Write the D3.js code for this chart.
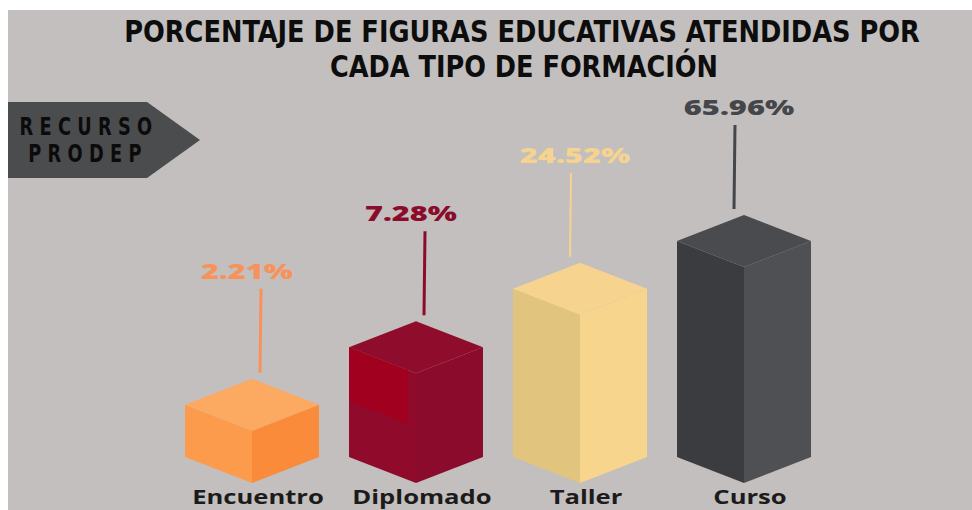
<!DOCTYPE html>
<html>
<head>
<meta charset="utf-8">
<script src="https://cdn.jsdelivr.net/npm/d3@7"></script>
<style>
  html, body { margin: 0; padding: 0; background: #fff; }
  svg { display: block; }
</style>
</head>
<body>
<div id="chart"></div>
<script>
// data
var categories = ["Encuentro", "Diplomado", "Taller", "Curso"];
var values = [2.21, 7.28, 24.52, 65.96];
var valueLabels = ["2.21%", "7.28%", "24.52%", "65.96%"];

// face colours per bar: top, left, right, label
var faceTop = ["#fca962", "#8f0c2d", "#f6d38e", "#4a4b4e"];
var faceLeft = ["#fd9b4d", "#8f0a2b", "#e1c47e", "#3a3c40"];
var faceRight = ["#f98b3a", "#8a0b2b", "#f7d58d", "#4e5053"];
var labelColor = ["#f7935a", "#8b0b2b", "#f6d48f", "#454649"];

var W = 972, H = 510;
var svg = d3.select("#chart").append("svg")
    .attr("width", W)
    .attr("height", H);

// grey card
svg.append("rect")
    .attr("x", 8).attr("y", 10)
    .attr("width", W - 8).attr("height", H - 10)
    .attr("fill", "#c2bfbe");

// title, squeezed to the original width with a scale transform
var title = svg.append("g")
    .attr("font-family", "'Liberation Sans Narrow', 'DejaVu Sans Condensed', 'Roboto Condensed', sans-serif")
    .attr("font-weight", "bold")
    .attr("font-size", 31)
    .attr("fill", "#0d0d0d")
    .attr("text-anchor", "middle");

function fitLine(txt, cx, by, w) {
  var t = title.append("text").attr("x", 0).attr("y", 0).text(txt);
  var len = t.node().getComputedTextLength();
  t.attr("transform", "translate(" + cx + "," + by + ") scale(" + (w / len) + ",1)");
}
fitLine("PORCENTAJE DE FIGURAS EDUCATIVAS ATENDIDAS POR", 522, 42, 796);
fitLine("CADA TIPO DE FORMACIÓN", 524, 77, 388);

// badge
svg.append("polygon")
    .attr("points", "8,102 147,102 200,140 147,178 8,178")
    .attr("fill", "#4b4c4e");
var badge = svg.append("g")
    .attr("font-family", "'DejaVu Sans', sans-serif")
    .attr("font-weight", "bold")
    .attr("font-size", 24)
    .attr("letter-spacing", 8.5)
    .attr("fill", "#0b0b0b")
    .attr("text-anchor", "middle");
badge.append("text")
    .attr("transform", "translate(89,135) scale(0.74,1)")
    .text("RECURSO");
badge.append("text")
    .attr("transform", "translate(88,162) scale(0.74,1)")
    .text("PRODEP");

// scales
var x = d3.scaleBand()
    .domain(categories)
    .range([170, 826])
    .padding(0);

var base = 457;
var y = d3.scaleLog()
    .domain([1, 100])
    .range([base - 14, base - 236]);

var hw = 67, d = 26;

var bars = svg.selectAll("g.bar")
  .data(categories)
  .enter()
    .append("g")
    .attr("class", "bar");

bars.each(function(c, i) {
  var g = d3.select(this);
  var cx = x(c) + x.bandwidth() / 2;
  var yt = y(values[i]);

  // left face
  g.append("polygon")
    .attr("points", [[cx - hw, yt], [cx, yt + d], [cx, base + d], [cx - hw, base]].join(" "))
    .attr("fill", faceLeft[i]);
  // right face
  g.append("polygon")
    .attr("points", [[cx, yt + d], [cx + hw, yt], [cx + hw, base], [cx, base + d]].join(" "))
    .attr("fill", faceRight[i]);
  // top
  g.append("polygon")
    .attr("points", [[cx - hw, yt], [cx, yt - d], [cx + hw, yt], [cx, yt + d]].join(" "))
    .attr("fill", faceTop[i]);

  // brighter patch on the diplomado left face
  if (c === "Diplomado") {
    var pw = 59;
    g.append("polygon")
      .attr("points", [[cx - hw, yt], [cx - hw + pw, yt + d * pw / hw], [cx - hw + pw, yt + d * pw / hw + 54], [cx - hw, yt + 54]].join(" "))
      .attr("fill", "#a2001f");
  }

  // leader line + value
  var lx = cx + (i < 2 ? 8 : -10);
  var lb = yt - d - 100;
  g.append("line")
    .attr("x1", lx + 1).attr("y1", lb + 10)
    .attr("x2", lx).attr("y2", yt - d - 6)
    .attr("stroke", labelColor[i])
    .attr("stroke-width", c === "Taller" ? 2 : 3);

  g.append("text")
    .attr("x", cx - 5).attr("y", lb)
    .attr("text-anchor", "middle")
    .attr("font-family", "'Open Sans', 'DejaVu Sans', sans-serif")
    .attr("font-weight", 800)
    .attr("font-size", 21)
    .attr("fill", labelColor[i])
    .attr("textLength", valueLabels[i].length * 18.4)
    .attr("lengthAdjust", "spacingAndGlyphs")
    .text(valueLabels[i]);

  // category (stretched wide like the original)
  var t = g.append("text")
    .attr("x", cx + 6).attr("y", 504)
    .attr("text-anchor", "middle")
    .attr("font-family", "'Open Sans', 'DejaVu Sans', sans-serif")
    .attr("font-weight", 700)
    .attr("font-size", 20)
    .attr("fill", "#1b1b1b")
    .text(c);
  var len = t.node().getComputedTextLength();
  t.attr("textLength", len * 1.28).attr("lengthAdjust", "spacingAndGlyphs");
});
</script>
</body>
</html>
